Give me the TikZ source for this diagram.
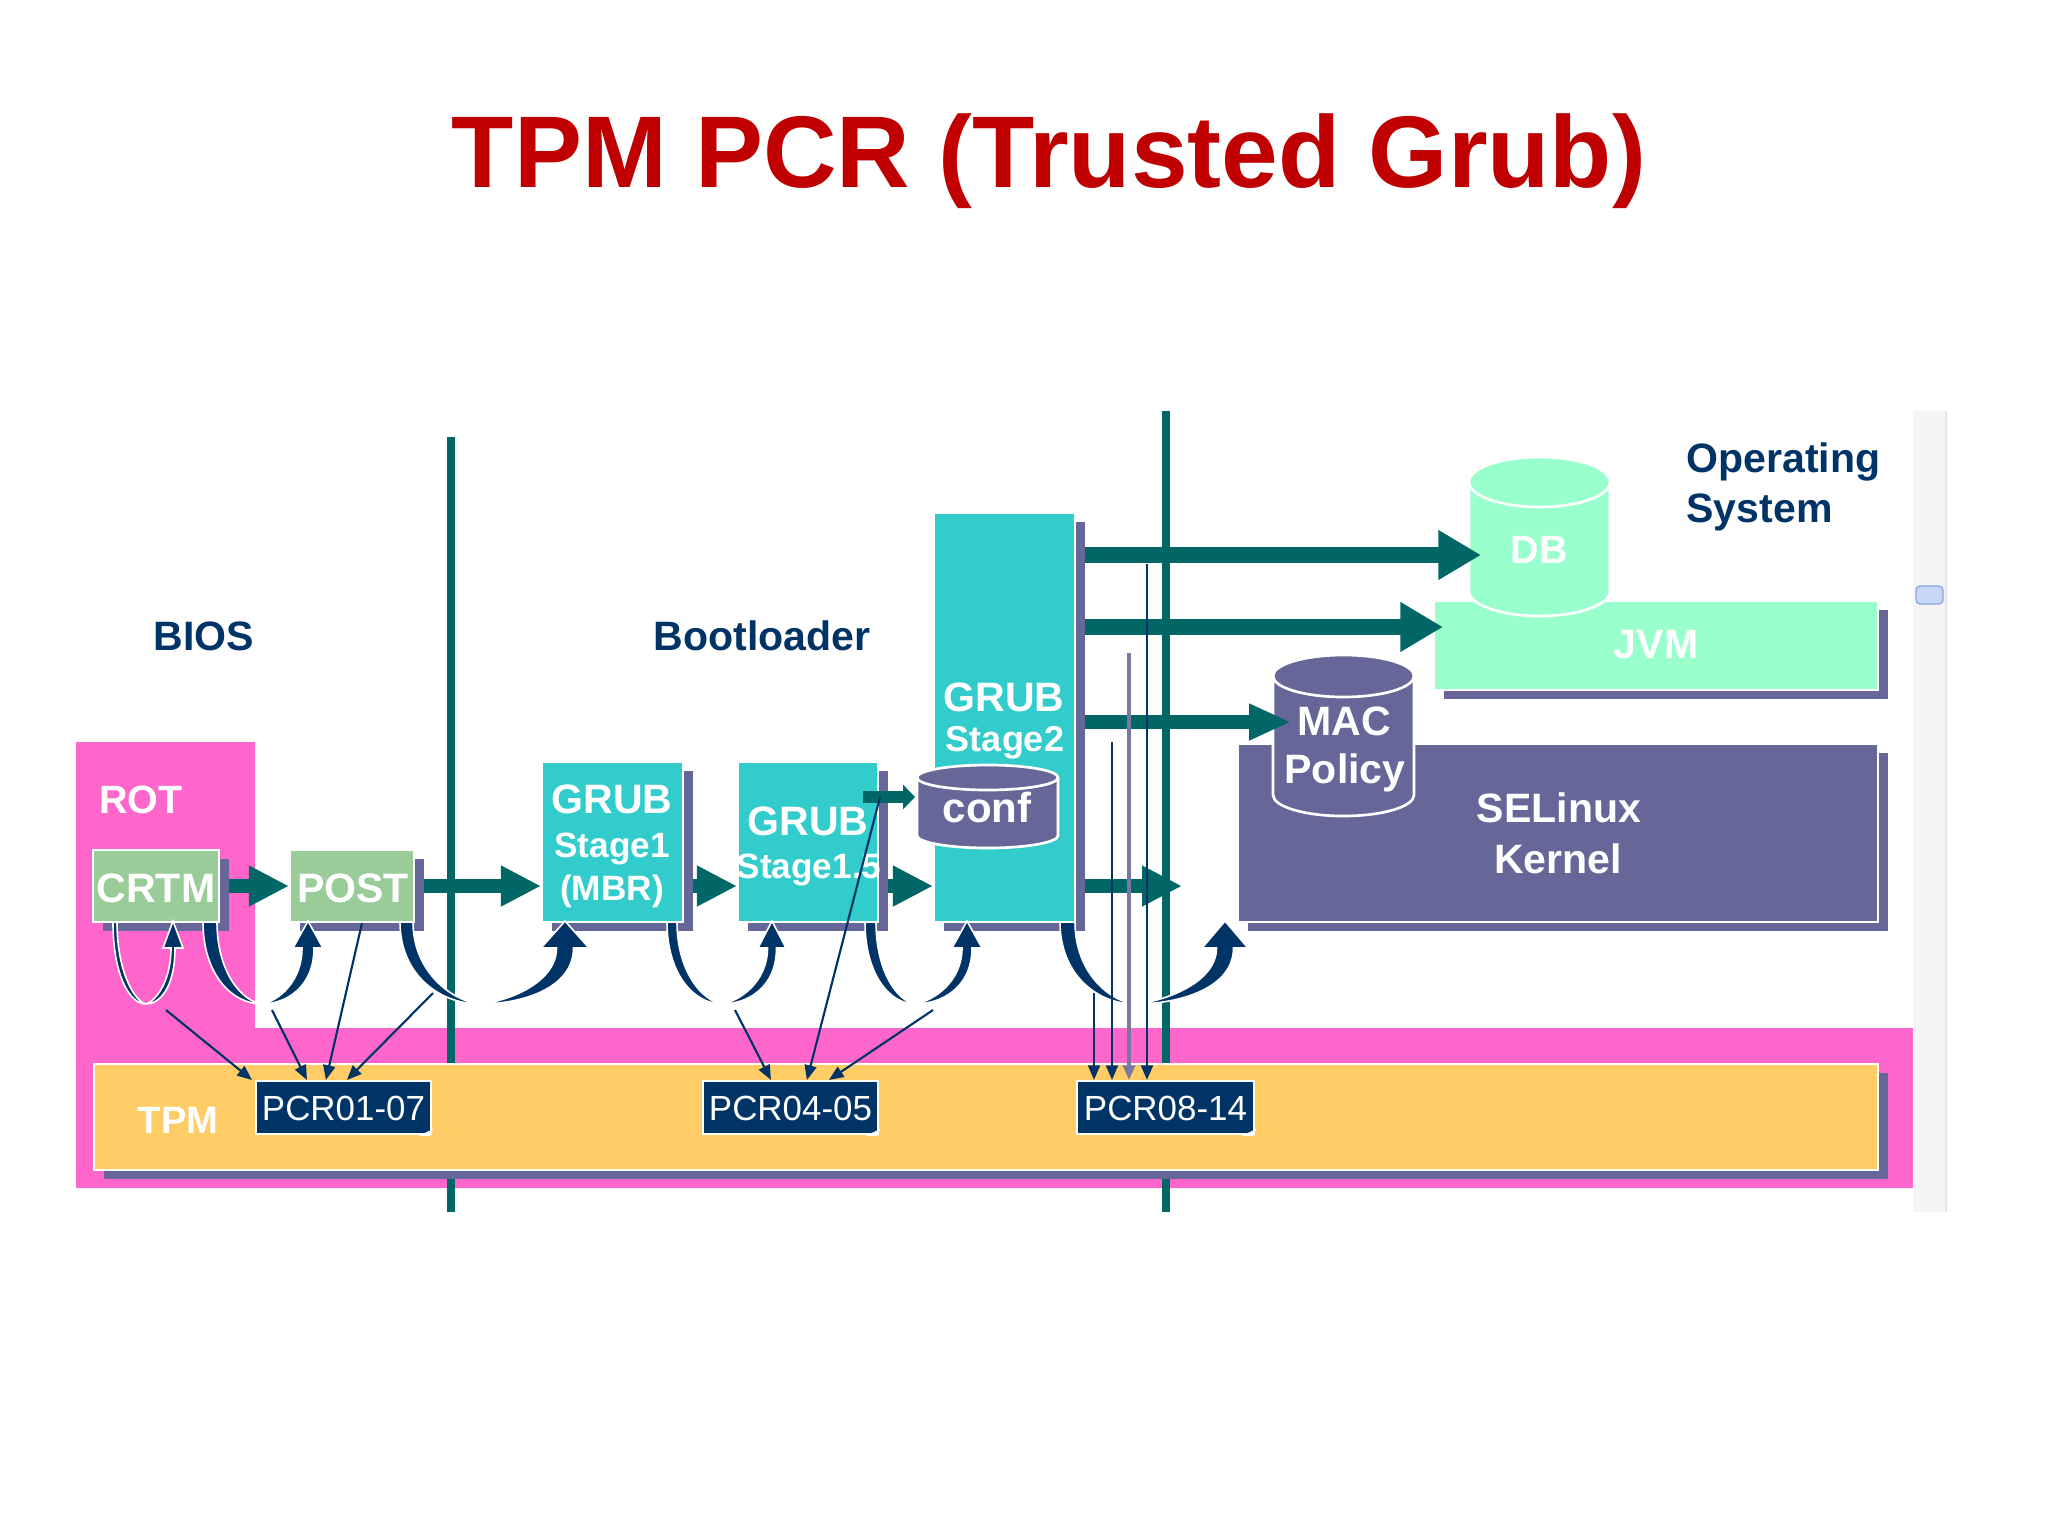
\documentclass[tikz,border=0pt]{standalone}
\usepackage{fontspec}
\setmainfont{Liberation Sans}
\usetikzlibrary{arrows.meta,fit,shadows,calc}
\definecolor{teal2}{RGB}{0,102,102}
\definecolor{turq}{RGB}{51,204,204}
\definecolor{lgreen}{RGB}{153,204,153}
\definecolor{mint}{RGB}{153,255,204}
\definecolor{purp}{RGB}{102,102,153}
\definecolor{pinkk}{RGB}{255,102,204}
\definecolor{tpmor}{RGB}{255,204,102}
\definecolor{navyc}{RGB}{0,51,102}
\definecolor{titlered}{RGB}{192,0,0}
\definecolor{greyline}{RGB}{120,120,160}
\definecolor{thumbf}{RGB}{200,214,248}
\definecolor{thumbd}{RGB}{140,165,225}
\pgfdeclarelayer{bg}
\pgfdeclarelayer{under}
\pgfsetlayers{bg,under,main}
% cylinder: x1 x2 ytop ybottom ry colour
\newcommand{\cylshape}[6]{%
  \pgfmathsetmacro\cyCx{(#1+#2)/2}%
  \pgfmathsetmacro\cyRx{(#2-#1)/2}%
  \pgfmathsetmacro\cyKx{0.5523*\cyRx}%
  \pgfmathsetmacro\cyKy{0.5523*#5}%
  \pgfmathsetmacro\cyA{#3+#5}%
  \pgfmathsetmacro\cyB{#4-#5}%
  \pgfmathsetmacro\cyC{#3+2*#5}%
  \filldraw[fill=#6, draw=white, line width=1pt]
    (#1,\cyA) -- (#1,\cyB)
    .. controls (#1,{\cyB+\cyKy}) and ({\cyCx-\cyKx},#4) .. (\cyCx,#4)
    .. controls ({\cyCx+\cyKx},#4) and (#2,{\cyB+\cyKy}) .. (#2,\cyB)
    -- (#2,\cyA)
    .. controls (#2,{\cyA-\cyKy}) and ({\cyCx+\cyKx},#3) .. (\cyCx,#3)
    .. controls ({\cyCx-\cyKx},#3) and (#1,{\cyA-\cyKy}) .. cycle;
  \draw[white, line width=1pt] (#1,\cyA)
    .. controls (#1,{\cyA+\cyKy}) and ({\cyCx-\cyKx},\cyC) .. (\cyCx,\cyC)
    .. controls ({\cyCx+\cyKx},\cyC) and (#2,{\cyA+\cyKy}) .. (#2,\cyA);
}
% curved up arrow: xs w xb xe headhalf wr
\newcommand{\uarrow}[6]{%
  \filldraw[fill=navyc, draw=white, line width=0.6pt]
   (#1,922) .. controls (#1,975) and ({#3-0.5*(#3-#1)},1004) .. (#3,1004)
   .. controls ({#3+0.5*(#4-#3)},1004) and ({#4+#6/2},988) .. ({#4+#6/2},948)
   -- ({#4+#5},948) -- (#4,921) -- ({#4-#5},948) -- ({#4-#6/2},948)
   .. controls ({#4-#6/2},982) and ({#3+0.35*(#4-#3)},1001) .. (#3,1004)
   .. controls ({#3-0.35*(#3-#1)},1001) and ({#1+#2},972) .. ({#1+#2},922) -- cycle;
}
\begin{document}
\begin{tikzpicture}[x=0.375pt,y=-0.375pt,
  box/.style={draw=white, line width=0.8pt, inner sep=0pt,
    drop shadow={shadow xshift=3.75pt,shadow yshift=-3.2pt,opacity=1,fill=purp}},
  pcrbox/.style={fill=navyc, draw=white, line width=0.8pt, inner sep=0pt},
  wt/.style={text=white, font=\bfseries\fontsize{15.4}{18}\selectfont, inner sep=0pt, anchor=base},
  ws/.style={text=white, font=\bfseries\fontsize{13.2}{16}\selectfont, inner sep=0pt, anchor=base},
  dk/.style={text=navyc, font=\bfseries\fontsize{15.4}{18}\selectfont, inner sep=0pt, anchor=base west},
  pcrt/.style={text=white, font=\fontsize{13.1}{16}\selectfont, inner sep=0pt, anchor=base},
  chainarr/.style={draw=teal2, line width=5.6pt, -{Triangle[length=15pt,width=14.3pt]}},
  bigarr/.style={draw=teal2, line width=6pt, -{Triangle[length=16pt,width=17.6pt]}},
  macarr/.style={draw=teal2, line width=4.9pt, -{Triangle[length=15.75pt,width=12.75pt]}},
  confarr/.style={draw=teal2, line width=4.5pt, -{Triangle[length=4.5pt,width=9pt]}},
  pcrarr/.style={draw=navyc, line width=0.8pt, -{Triangle[length=5.5pt,width=4.5pt]}},
  vline/.style={draw=teal2, line width=3.1pt}]
\useasboundingbox (0,0) rectangle (2048,1536);

% title
\node[anchor=base, text=titlered, font=\bfseries\fontsize{38.2}{44}\selectfont, inner sep=0pt] (title) at (1049,187) {TPM PCR (Trusted Grub)};

% scrollbar strip
\fill[black!4] (1913,411) rectangle (1946,1212);
\draw[black!10, line width=0.6pt] (1946,411) -- (1946,1212);
\draw[fill=thumbf, draw=thumbd, line width=0.5pt, rounded corners=1.5pt] (1916,586) rectangle (1943,604);

% pink ROT / TPM background
\begin{pgfonlayer}{bg}
\fill[pinkk] (76,742) -- (255,742) -- (255,1028) -- (1913,1028) -- (1913,1188) -- (76,1188) -- cycle;
\end{pgfonlayer}

% section labels
\node[dk] (bios) at (153,650) {BIOS};
\node[dk] (boot) at (653,650) {Bootloader};
\node[dk] (os1) at (1686,472) {Operating};
\node[dk] (os2) at (1686,522) {System};

% boxes
\node[box, fill=lgreen, fit={(93,850)(219,922)}] (crtm) {};
\node[box, fill=lgreen, fit={(290,850)(414,922)}] (post) {};
\node[box, fill=turq, fit={(542,762)(683,922)}] (s1) {};
\node[box, fill=turq, fit={(738,762)(878,922)}] (s15) {};
\node[box, fill=turq, fit={(934,513)(1075,922)}] (s2) {};
\node[box, fill=purp, fit={(1238,744)(1878,922)}] (sel) {};
\node[box, fill=mint, fit={(1434,601)(1878,690)}] (jvm) {};
\node[box, fill=tpmor, fit={(94,1064)(1878,1170)}] (tpm) {};

% vertical separators and chain arrows (below the boxes)
\begin{pgfonlayer}{under}
\draw[vline] (451,437) -- (451,1212);
\draw[vline] (1166,411) -- (1166,1212);
\coordinate (s2out) at (1182,886);
\draw[chainarr] (crtm.center) -- (post.west);
\draw[chainarr] (post.center) -- (post -| s1.west);
\draw[chainarr] (post -| s1.center) -- (post -| s15.west);
\draw[chainarr] (post -| s15.center) -- (post -| s2.west);
\draw[chainarr] (s2 |- s2out) -- (s2out);
\end{pgfonlayer}

% cylinders
\cylshape{917}{1058}{765}{848}{12.5}{purp}
\cylshape{1469}{1610}{457}{616}{25}{mint}
\cylshape{1273}{1414}{655}{816}{21}{purp}

% texts
\node[wt, font=\bfseries\fontsize{14.8}{18}\selectfont] (rot) at (141,813) {ROT};
\node[wt] (crtmt) at (156,902) {CRTM};
\node[wt] (postt) at (353,902) {POST};
\node[wt] (s1a) at (612,813) {GRUB};
\node[ws] (s1b) at (612,857) {Stage1};
\node[ws] (s1c) at (612,900) {(MBR)};
\node[wt] (s15a) at (808,835) {GRUB};
\node[ws] (s15b) at (809,878) {Stage1.5};
\node[wt] (s2a) at (1004,711) {GRUB};
\node[ws, font=\bfseries\fontsize{13.5}{16}\selectfont] (s2b) at (1005,751) {Stage2};
\node[wt, font=\bfseries\fontsize{15.75}{18}\selectfont] (conf) at (987,822) {conf};
\node[wt, font=\bfseries\fontsize{14.8}{18}\selectfont] (db) at (1539,563) {DB};
\node[wt] (jvmt) at (1656,658) {JVM};
\node[wt] (mac) at (1344,735) {MAC};
\node[wt] (policy) at (1345,783) {Policy};
\node[wt] (selt) at (1559,822) {SELinux};
\node[wt] (kern) at (1558,873) {Kernel};
\node[wt, font=\bfseries\fontsize{14.3}{18}\selectfont] (tpmt) at (178,1133) {TPM};

% PCR registers
\node[pcrbox, fit={(256,1081)(431,1134)}] (pcr1) {};
\node[pcrbox, fit={(703,1081)(878,1134)}] (pcr2) {};
\node[pcrbox, fit={(1077,1081)(1254,1134)}] (pcr3) {};
\foreach \p in {pcr1,pcr2,pcr3}{
  \fill[white] ($(\p.south east)+(-14,1)$) -- ($(\p.south east)+(1,-6)$) -- ($(\p.south east)+(-2,1)$) -- cycle;
}
\node[pcrt] (pcr1t) at (pcr1.center |- 0,1120) {PCR01-07};
\node[pcrt] (pcr2t) at (pcr2.center |- 0,1120) {PCR04-05};
\node[pcrt] (pcr3t) at (pcr3.center |- 0,1120) {PCR08-14};

% curved measurement hand-over arrows
\uarrow{113}{4}{146}{173}{10}{4}
\uarrow{203}{14}{262}{308}{15}{12}
\uarrow{400}{13}{480}{565}{24}{17}
\uarrow{667}{10}{722}{772}{14}{9}
\uarrow{865}{11}{915}{967}{15}{10}
\uarrow{1060}{15}{1135}{1225}{23}{17}

% arrows from Stage2 into the OS
\coordinate (dbin) at (1481,555);
\coordinate (jvmin) at (1443,627);
\coordinate (macin) at (1291,722);
\draw[bigarr] ($(s2.east |- dbin)+(9,0)$) -- (dbin);
\draw[bigarr] ($(s2.east |- jvmin)+(9,0)$) -- (jvmin);
\draw[macarr] ($(s2.east |- macin)+(9,0)$) -- (macin);

% Stage1.5 reads conf
\coordinate (confsrc) at (863,797);
\coordinate (confin) at (915,797);
\draw[confarr] (confsrc) -- (confin);

% measurement arrows into PCRs
\coordinate (t1) at (166,1010);
\coordinate (t2) at (272,1010);
\coordinate (t3) at (433,993);
\draw[pcrarr] (t1) -- ($(pcr1.north west)+(-3,0)$);
\draw[pcrarr] (t2) -- ($(pcr1.north west)+(52,0)$);
\draw[pcrarr] ($(post.south)+(10,0)$) -- ($(pcr1.north west)+(71,0)$);
\draw[pcrarr] (t3) -- ($(pcr1.north west)+(92,0)$);

\coordinate (t4) at (735,1010);
\coordinate (t5) at (880,797);
\coordinate (t6) at (933,1010);
\draw[pcrarr] (t4) -- ($(pcr2.north west)+(69,0)$);
\draw[pcrarr] (t5) -- ($(pcr2.north west)+(105,0)$);
\draw[pcrarr] (t6) -- ($(pcr2.north west)+(127,0)$);

\coordinate (v1) at (1094,993);
\coordinate (v2) at (1112,742);
\coordinate (v3) at (1129,653);
\coordinate (v4) at (1147,564);
\draw[pcrarr] (v1) -- (v1 |- pcr3.north);
\draw[pcrarr] (v2) -- (v2 |- pcr3.north);
\draw[pcrarr, draw=greyline, line width=1.2pt] (v3) -- (v3 |- pcr3.north);
\draw[pcrarr] (v4) -- (v4 |- pcr3.north);
\end{tikzpicture}
\end{document}
